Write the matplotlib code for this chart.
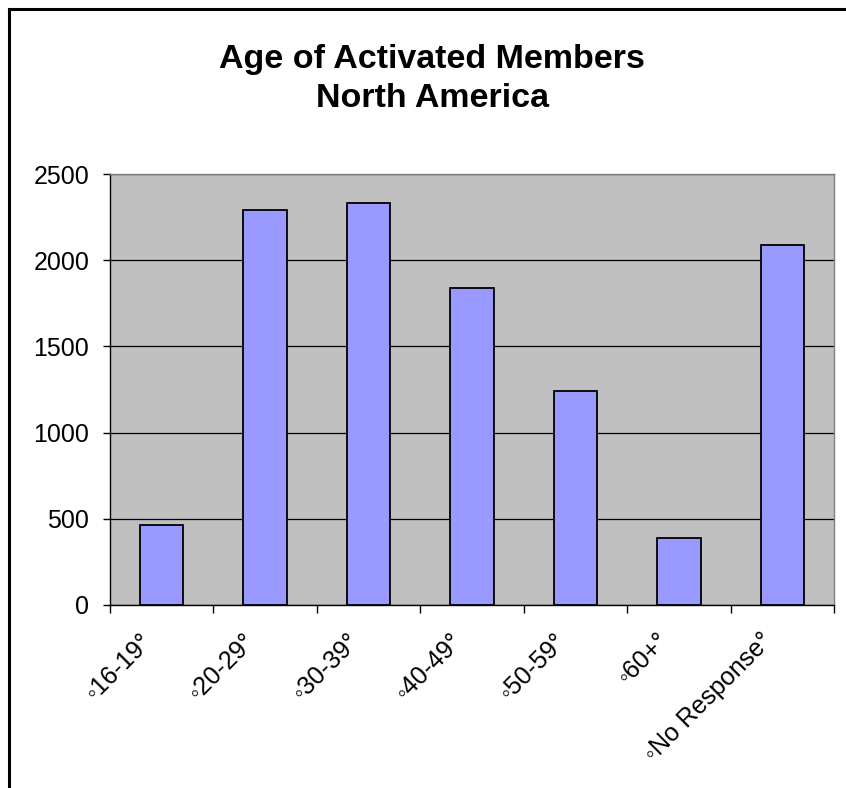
import matplotlib
matplotlib.use("Agg")
import matplotlib.pyplot as plt
import matplotlib.transforms as mtransforms
from matplotlib.lines import Line2D
import numpy as np

plt.rcParams['font.family'] = ['Liberation Sans', 'DejaVu Sans']

# data
age_groups = ["16-19", "20-29", "30-39", "40-49", "50-59", "60+", "No Response"]
members = [465, 2290, 2330, 1840, 1240, 390, 2090]
y_ticks = [0, 500, 1000, 1500, 2000, 2500]

W, H = 846, 788
fig = plt.figure(figsize=(W / 100, H / 100), dpi=100)

# plot area in pixels: left 110, right 834, top 174, bottom 605
ax = fig.add_axes([110 / W, (H - 605) / H, (834 - 110) / W, (605 - 174) / H])
ax.set_facecolor("#C0C0C0")

x = np.arange(len(age_groups))
ax.bar(x, members, width=0.42, color="#9999FF", edgecolor="black", linewidth=1.3, zorder=3)

ax.set_xlim(-0.5, len(age_groups) - 0.5)
ax.set_ylim(0, 2500)
ax.set_yticks(y_ticks)
ax.yaxis.grid(True, color="black", linewidth=0.9, zorder=1)
ax.set_axisbelow(True)

# major ticks at category edges, labels on minor ticks at centres
ax.set_xticks(np.arange(len(age_groups) + 1) - 0.5)
ax.set_xticklabels([])
ax.set_xticks(x, minor=True)
labels = ax.set_xticklabels(["\u25e6" + g + "\u00b0" for g in age_groups], minor=True,
                            rotation=45, ha="right", va="top", rotation_mode="anchor")
ax.tick_params(axis="x", which="major", length=6, width=1, direction="out")
ax.tick_params(axis="x", which="minor", length=0, pad=17, labelsize=18)
ax.tick_params(axis="y", length=5, width=1, pad=10, labelsize=18)

shift = mtransforms.ScaledTranslation(-22 / 100, 0, fig.dpi_scale_trans)
for lab in labels:
    lab.set_transform(lab.get_transform() + shift)

ax.spines["left"].set_color("black")
ax.spines["bottom"].set_color("black")
ax.spines["top"].set_color("#808080")
ax.spines["right"].set_color("#808080")
for s in ax.spines.values():
    s.set_linewidth(1)

fig.text(432 / W, 1 - 79 / H, "Age of Activated Members\nNorth America", ha="center", va="center",
         fontsize=24.5, fontweight="bold", linespacing=1.3)

# outer frame (left and top edges visible)
fig.add_artist(Line2D([9 / W, 9 / W], [0, 1 - 9 / H], color="black", linewidth=2.2,
                      transform=fig.transFigure))
fig.add_artist(Line2D([9 / W, 1], [1 - 9 / H, 1 - 9 / H], color="black", linewidth=2.2,
                      transform=fig.transFigure))

fig.savefig("out.png", dpi=100)
